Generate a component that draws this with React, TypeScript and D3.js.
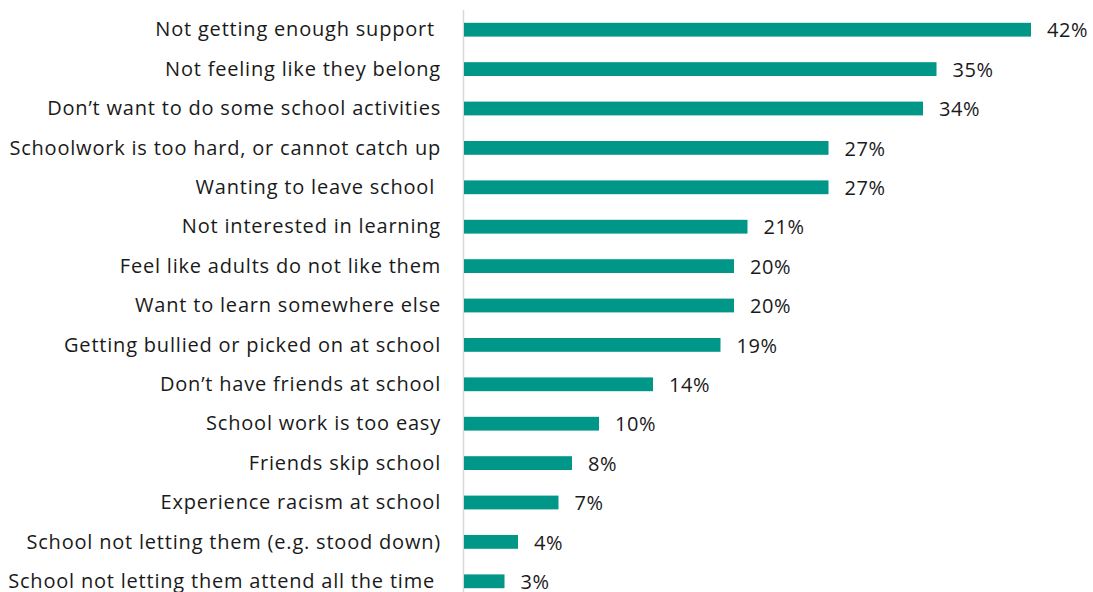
import React from "react";
import * as d3 from "d3";

const categories = [
  "Not getting enough support ",
  "Not feeling like they belong",
  "Don\u2019t want to do some school activities",
  "Schoolwork is too hard, or cannot catch up",
  "Wanting to leave school ",
  "Not interested in learning",
  "Feel like adults do not like them",
  "Want to learn somewhere else",
  "Getting bullied or picked on at school",
  "Don\u2019t have friends at school",
  "School work is too easy",
  "Friends skip school",
  "Experience racism at school",
  "School not letting them (e.g. stood down)",
  "School not letting them attend all the time ",
];
const values = [42, 35, 34, 27, 27, 21, 20, 20, 19, 14, 10, 8, 7, 4, 3];

const W = 1093;
const H = 592;
const FONT = "'Open Sans', 'Liberation Sans', Arial, sans-serif";

export default function App() {
  const x = d3.scaleLinear().domain([0, 42]).range([464, 1031]);
  const y = d3
    .scaleBand()
    .domain(categories)
    .range([10, 601])
    .paddingInner(0.65)
    .paddingOuter(0.325);
  const bw = y.bandwidth();
  return (
    <svg
      width={W}
      height={H}
      style={{ position: "absolute", left: 0, top: 0, background: "#fff" }}
    >
      <line x1={463.5} x2={463.5} y1={10} y2={H} stroke="#d9d9d9" strokeWidth={1.5} />
      {categories.map((c, i) => {
        const yc = (y(c) as number) + bw / 2;
        return (
          <g key={c}>
            <rect
              x={x(0)}
              y={y(c)}
              width={x(values[i]) - x(0)}
              height={bw}
              fill="#009688"
            />
            <text
              x={441}
              y={yc}
              dy="0.33em"
              textAnchor="end"
              fontFamily={FONT}
              fontSize={20}
              letterSpacing={0.8}
              fill="#1a1a1a"
              style={{ whiteSpace: "pre" }}
            >
              {c}
            </text>
            <text
              x={x(values[i]) + 16}
              y={yc + 1}
              dy="0.33em"
              fontFamily={FONT}
              fontSize={20}
              letterSpacing={0.6}
              fill="#1a1a1a"
            >
              {values[i] + "%"}
            </text>
          </g>
        );
      })}
    </svg>
  );
}
